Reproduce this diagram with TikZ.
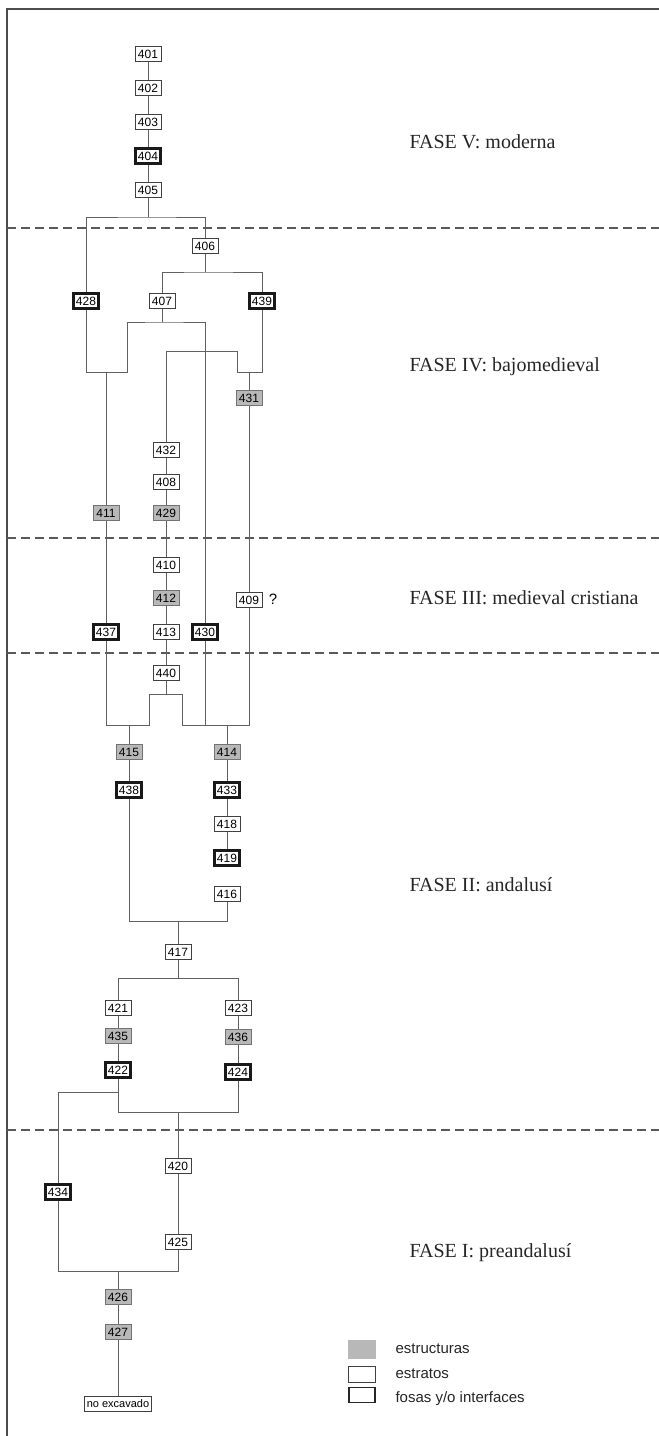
\documentclass[tikz,border=0pt]{standalone}
\usepackage{fontspec}
\setmainfont{Liberation Serif}
\setsansfont{Liberation Sans}
\usepackage{xcolor}
\usepackage{tikz}
\usetikzlibrary{positioning, calc}

\definecolor{relleno}{gray}{0.72}
\definecolor{linea}{gray}{0.38}

\begin{document}
\begin{tikzpicture}[x=1pt, y=-1pt,
		ue/.style={draw=black!75, fill=white, line width=0.8pt, minimum width=26.2pt, minimum height=15.2pt, inner sep=0pt, font=\sffamily\fontsize{12}{13}\selectfont},
		estr/.style={ue, fill=relleno, draw=black!55},
		fosa/.style={ue, draw=black!90, line width=2.6pt, minimum width=25.5pt, minimum height=15.5pt},
		faselbl/.style={anchor=west, font=\fontsize{20}{22}\selectfont, text=black!85},
		leyenda/.style={anchor=west, font=\sffamily\fontsize{15}{17}\selectfont, text=black!85},
		rel/.style={linea, line width=1pt},
		corte/.style={black!65, line width=1.8pt, dash pattern=on 9pt off 5pt}]
			\useasboundingbox (0,0) rectangle (659,1436);
			% marco y limites de fase
			\draw[black!70, line width=2pt] (7,1436) -- (7,9) -- (659,9);
			\foreach \yy in {228,538,653,1130}
			\draw[corte] (7,\yy) -- (659,\yy);
			\node[faselbl] (f5) at (406,142) {FASE V: moderna};
			\node[faselbl] (f4) at (406,367) {FASE IV: bajomedieval};
			\node[faselbl] (f3) at (406,598) {FASE III: medieval cristiana};
			\node[faselbl] (f2) at (406,885) {FASE II: andalusí};
			\node[faselbl] (f1) at (406,1253) {FASE I: preandalusí};
			% unidades estratigraficas
			\node[ue] (n401) at (148,54) {401};
			\node[ue] (n402) at (148,88) {402};
			\node[ue] (n403) at (148,122) {403};
			\node[fosa] (n404) at (148,156) {404};
			\node[ue] (n405) at (148,190) {405};
			\node[ue] (n406) at (205,246) {406};
			\node[ue] (n407) at (162,301) {407};
			\node[fosa] (n428) at (86,301) {428};
			\node[fosa] (n439) at (262,301) {439};
			\node[estr] (n431) at (249,398) {431};
			\node[ue] (n432) at (166,450) {432};
			\node[ue] (n408) at (166,482) {408};
			\node[estr] (n429) at (166,513) {429};
			\node[estr] (n411) at (106,513) {411};
			\node[ue] (n410) at (166,565) {410};
			\node[estr] (n412) at (166,598) {412};
			\node[ue] (n409) at (249,600) {409};
			\node[font=\sffamily\fontsize{15}{17}\selectfont] (dud) at (273,599) {?};
			\node[fosa] (n437) at (106,632) {437};
			\node[ue] (n413) at (166,632) {413};
			\node[fosa] (n430) at (205,632) {430};
			\node[ue] (n440) at (166,673) {440};
			\node[estr] (n415) at (129,752) {415};
			\node[estr] (n414) at (227,752) {414};
			\node[fosa] (n438) at (129,790) {438};
			\node[fosa] (n433) at (227,790) {433};
			\node[ue] (n418) at (227,824) {418};
			\node[fosa] (n419) at (227,858) {419};
			\node[ue] (n416) at (227,894) {416};
			\node[ue] (n417) at (178,952) {417};
			\node[ue] (n421) at (118,1008) {421};
			\node[ue] (n423) at (238,1008) {423};
			\node[estr] (n435) at (118,1036) {435};
			\node[estr] (n436) at (238,1037) {436};
			\node[fosa] (n422) at (118,1070) {422};
			\node[fosa] (n424) at (238,1072) {424};
			\node[ue] (n420) at (178,1166) {420};
			\node[fosa] (n434) at (58,1192) {434};
			\node[ue] (n425) at (178,1242) {425};
			\node[estr] (n426) at (118,1297) {426};
			\node[estr] (n427) at (118,1332) {427};
			\node[ue, inner sep=2pt, font=\sffamily\fontsize{11}{12}\selectfont] (noexc) at (118,1404) {no excavado};
			% puntos de union
			\coordinate (b1) at (148,217);
			\coordinate (b2) at (205,272);
			\coordinate (b3) at (162,322);
			\coordinate (b4) at (106,372);
			\coordinate (k1) at (127,372);
			\coordinate (k2) at (237,372);
			\coordinate (k3) at (166,351);
			\coordinate (b5) at (249,372);
			\coordinate (b6) at (166,694);
			\coordinate (k4) at (149,694);
			\coordinate (k5) at (182,694);
			\coordinate (c1) at (129,725);
			\coordinate (c2) at (227,725);
			\coordinate (b7) at (178,921);
			\coordinate (b8) at (178,978);
			\coordinate (c3) at (118,1092);
			\coordinate (b9) at (178,1112);
			\coordinate (b10) at (118,1271);
			% relaciones
			\draw[rel] (n401) -- (n402) -- (n403) -- (n404) -- (n405) -- (b1);
			\draw[rel] (n428) |- (b1) -| (n406);
			\draw[rel] (n406) -- (b2);
			\draw[rel] (n407) |- (b2) -| (n439);
			\draw[rel] (n407) -- (b3);
			\draw[rel] (n428) |- (k1) |- (b3) -| (n430);
			\draw[rel] (b4) -- (n411) -- (n437);
			\draw[rel] (n439) |- (k2) |- (k3) -- (n432);
			\draw[rel] (b5) -- (n431) -- (n409);
			\draw[rel] (n432) -- (n408) -- (n429) -- (n410) -- (n412) -- (n413) -- (n440) -- (b6);
			\draw[rel] (n437) |- (c1) -| (k4) -- (k5) |- (c2) -| (n409);
			\draw[rel] (n430) -- (n430 |- c2);
			\draw[rel] (c1) -- (n415) -- (n438);
			\draw[rel] (c2) -- (n414) -- (n433) -- (n418) -- (n419);
			\draw[rel] (n438) |- (b7) -| (n416);
			\draw[rel] (b7) -- (n417) -- (b8);
			\draw[rel] (n421) |- (b8) -| (n423);
			\draw[rel] (n421) -- (n435) -- (n422);
			\draw[rel] (n423) -- (n436) -- (n424);
			\draw[rel] (n422) |- (b9) -| (n424);
			\draw[rel] (c3) -| (n434);
			\draw[rel] (b9) -- (n420) -- (n425);
			\draw[rel] (n434) |- (b10) -| (n425);
			\draw[rel] (b10) -- (n426) -- (n427) -- (noexc);
			% leyenda
			\node[estr, draw=relleno, minimum width=27pt, minimum height=18pt] (l1) at (362,1349) {};
			\node[ue, minimum width=27pt, minimum height=16pt] (l2) at (362,1374) {};
			\node[ue, line width=1.6pt, draw=black!85, minimum width=26pt, minimum height=15pt] (l3) at (362,1395) {};
			\node[leyenda] (t1) at (392,1349) {estructuras};
			\node[leyenda] (t2) at (392,1374) {estratos};
			\node[leyenda] (t3) at (392,1399) {fosas y/o interfaces};
		\end{tikzpicture}
\end{document}
